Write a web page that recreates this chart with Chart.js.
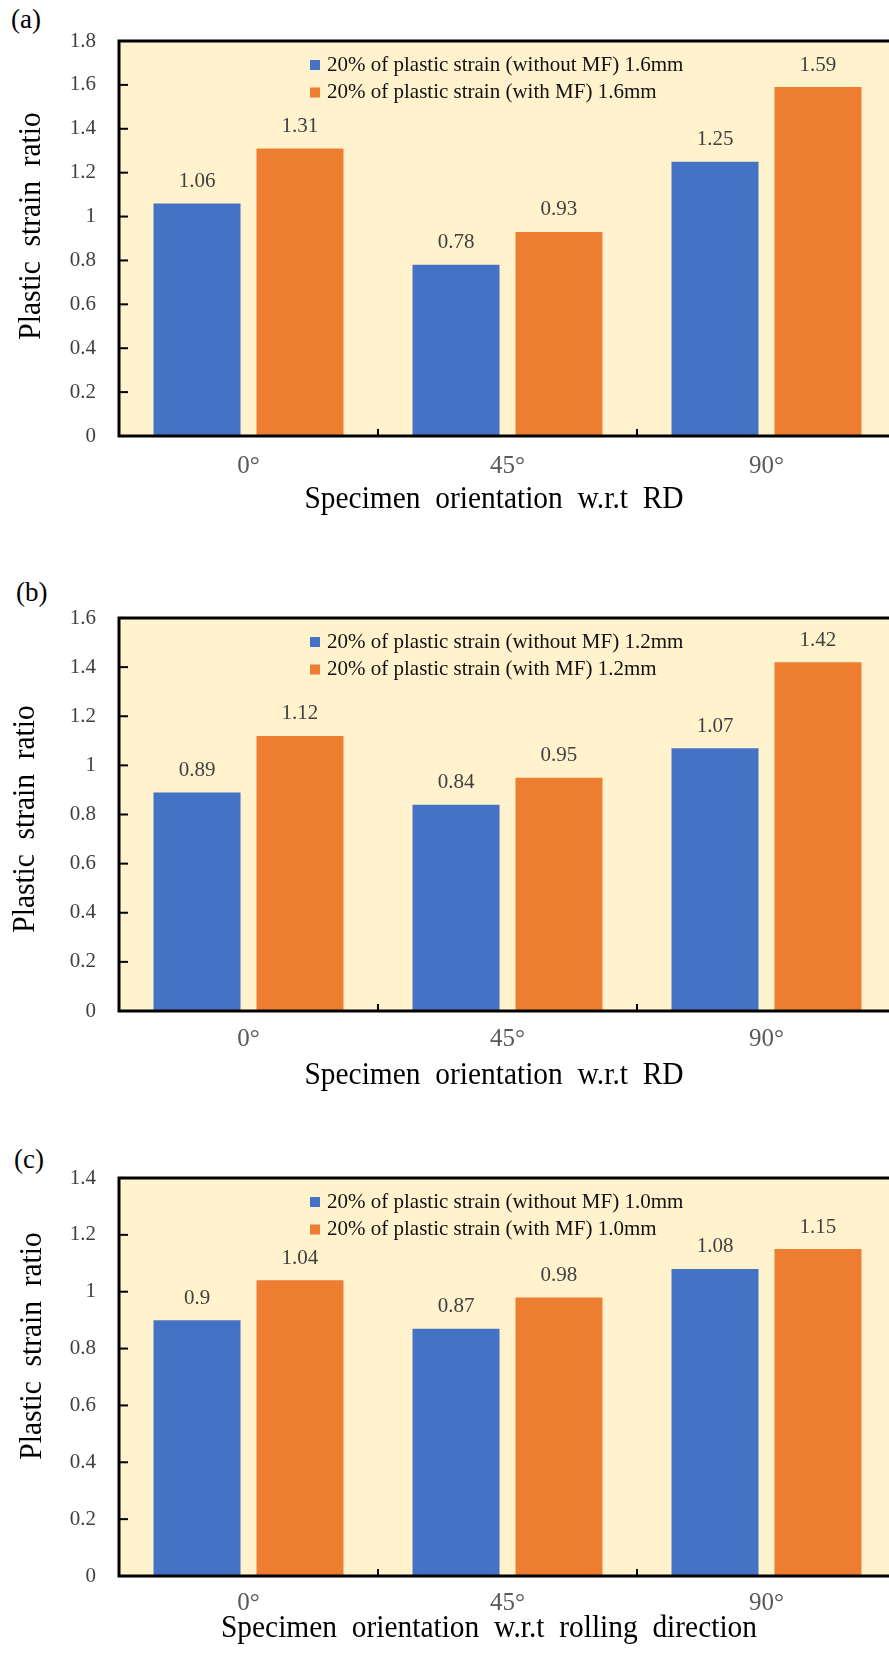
<!DOCTYPE html>
<html>
<head>
<meta charset="utf-8">
<script src="https://cdn.jsdelivr.net/npm/chart.js@4.4.1/dist/chart.umd.min.js"></script>
<style>
html,body{margin:0;padding:0;background:#fff;overflow:hidden;width:889px;height:1659px}
.panel{position:absolute;left:0}
.tag{position:absolute;font:27px/1 "Liberation Serif",serif;color:#000}
</style>
</head>
<body>
<div class="tag" style="left:11px;top:6px">(a)</div>
<div class="tag" style="left:16px;top:579px">(b)</div>
<div class="tag" style="left:14px;top:1146px">(c)</div>
<canvas id="chartA" class="panel" width="900" height="560" style="top:0"></canvas>
<canvas id="chartB" class="panel" width="900" height="560" style="top:560px"></canvas>
<canvas id="chartC" class="panel" width="900" height="539" style="top:1120px"></canvas>
<script>
const orientations = ['0°', '45°', '90°'];
const yTitle = 'Plastic  strain  ratio';

const labelsA = ['20% of plastic strain (without MF) 1.6mm', '20% of plastic strain (with MF) 1.6mm'];
const withoutA = [1.06, 0.78, 1.25];
const withA = [1.31, 0.93, 1.59];
const ticksA = ['0', '0.2', '0.4', '0.6', '0.8', '1', '1.2', '1.4', '1.6', '1.8'];

const labelsB = ['20% of plastic strain (without MF) 1.2mm', '20% of plastic strain (with MF) 1.2mm'];
const withoutB = [0.89, 0.84, 1.07];
const withB = [1.12, 0.95, 1.42];
const ticksB = ['0', '0.2', '0.4', '0.6', '0.8', '1', '1.2', '1.4', '1.6'];

const labelsC = ['20% of plastic strain (without MF) 1.0mm', '20% of plastic strain (with MF) 1.0mm'];
const withoutC = [0.9, 0.87, 1.08];
const withC = [1.04, 0.98, 1.15];
const ticksC = ['0', '0.2', '0.4', '0.6', '0.8', '1', '1.2', '1.4'];

const SERIF = "'Liberation Serif', serif";
const BLUE = '#4472C4', ORANGE = '#ED7D31';

// plot background, frame, inner ticks, value labels, legend and axis titles
const decor = {
  id: 'decor',
  beforeDatasetsDraw(chart){
    const {ctx, chartArea: a} = chart;
    ctx.save();
    ctx.fillStyle = '#FFF2CC';
    ctx.fillRect(a.left, a.top, a.right - a.left, a.bottom - a.top);
    ctx.restore();
  },
  afterDatasetsDraw(chart, args, o){
    const {ctx, chartArea: a} = chart;
    const xs = chart.scales.x, ys = chart.scales.y;
    ctx.save();
    ctx.strokeStyle = '#000';
    ctx.lineWidth = 2;
    ys.ticks.forEach(t => {
      const y = ys.getPixelForValue(t.value);
      ctx.beginPath(); ctx.moveTo(a.left, y); ctx.lineTo(a.left + 9, y); ctx.stroke();
    });
    const n = chart.data.labels.length;
    for(let i = 0; i < n - 1; i++){
      const x = (xs.getPixelForValue(i) + xs.getPixelForValue(i + 1)) / 2;
      ctx.beginPath(); ctx.moveTo(x, a.bottom); ctx.lineTo(x, a.bottom - 7); ctx.stroke();
    }
    ctx.lineWidth = 3;
    ctx.strokeRect(a.left, a.top, a.right - a.left, a.bottom - a.top);

    // value labels
    ctx.fillStyle = '#404040';
    ctx.font = "21px 'Liberation Serif', serif";
    ctx.textAlign = 'center';
    ctx.textBaseline = 'middle';
    chart.data.datasets.forEach((ds, i) => {
      chart.getDatasetMeta(i).data.forEach((bar, j) => {
        ctx.fillText(String(ds.data[j]), bar.x, bar.y - 22);
      });
    });

    // legend
    const lx = a.left + 191, ly = a.top + 24;
    ctx.font = "21px 'Liberation Serif', serif";
    ctx.textAlign = 'left';
    chart.data.datasets.forEach((ds, i) => {
      const y = ly + i * 27.5;
      ctx.fillStyle = ds.backgroundColor;
      ctx.fillRect(lx, y - 5, 10, 10);
      ctx.fillStyle = '#111';
      ctx.fillText(ds.label, lx + 17, y);
    });

    // axis titles (slightly condensed like the original)
    ctx.fillStyle = '#000';
    ctx.font = "32px 'Liberation Serif', serif";
    ctx.textAlign = 'center';
    ctx.save();
    ctx.translate(a.left + o.xTitleDx, a.bottom + o.xTitleDy);
    ctx.scale(0.92, 1);
    ctx.fillText(o.xTitle, 0, 0);
    ctx.restore();
    ctx.save();
    ctx.translate(o.yTitleX, a.top + o.yTitleDy);
    ctx.rotate(-Math.PI / 2);
    ctx.scale(0.92, 1);
    ctx.fillText(yTitle, 0, 0);
    ctx.restore();
    ctx.restore();
  }
};

function makeChart(id, names, without, withMF, yTicks, yMax, opt){
  return new Chart(document.getElementById(id), {
    type: 'bar',
    data: {
      labels: orientations,
      datasets: [
        {label: names[0], data: without, backgroundColor: BLUE},
        {label: names[1], data: withMF, backgroundColor: ORANGE}
      ]
    },
    options: {
      responsive: false,
      animation: false,
      devicePixelRatio: 1,
      categoryPercentage: 0.795,
      barPercentage: 0.845,
      layout: {padding: {top: opt.padTop, right: 4, left: 0, bottom: 0}},
      plugins: {legend: {display: false}, tooltip: {enabled: false}, decor: opt},
      scales: {
        x: {
          grid: {display: false, drawTicks: false},
          border: {display: false},
          ticks: {color: '#595959', font: {family: SERIF, size: 25}, padding: opt.xPad},
          afterFit(s){ s.height = opt.xHeight; }
        },
        y: {
          min: 0, max: yMax,
          grid: {display: false, drawTicks: false},
          border: {display: false},
          ticks: {stepSize: 0.2, color: '#404040', font: {family: SERIF, size: 21}, padding: 23,
                  callback: (v, i) => yTicks[i]},
          afterFit(s){ s.width = 119; }
        }
      }
    },
    plugins: [decor]
  });
}

function build(){
  makeChart('chartA', labelsA, withoutA, withA, ticksA, 1.8,
    {padTop: 41, xHeight: 124, xPad: 15, xTitle: 'Specimen  orientation  w.r.t  RD',
     xTitleDx: 375, xTitleDy: 64, yTitleX: 32, yTitleDy: 185});
  makeChart('chartB', labelsB, withoutB, withB, ticksB, 1.6,
    {padTop: 58, xHeight: 109, xPad: 13, xTitle: 'Specimen  orientation  w.r.t  RD',
     xTitleDx: 375, xTitleDy: 65, yTitleX: 26, yTitleDy: 201});
  makeChart('chartC', labelsC, withoutC, withC, ticksC, 1.4,
    {padTop: 58, xHeight: 83, xPad: 12, xTitle: 'Specimen  orientation  w.r.t  rolling  direction',
     xTitleDx: 370, xTitleDy: 53, yTitleX: 33, yTitleDy: 168});
}

if(document.fonts && document.fonts.load){
  document.fonts.load("30px 'Liberation Serif'").then(build, build);
} else {
  build();
}
</script>
</body>
</html>
